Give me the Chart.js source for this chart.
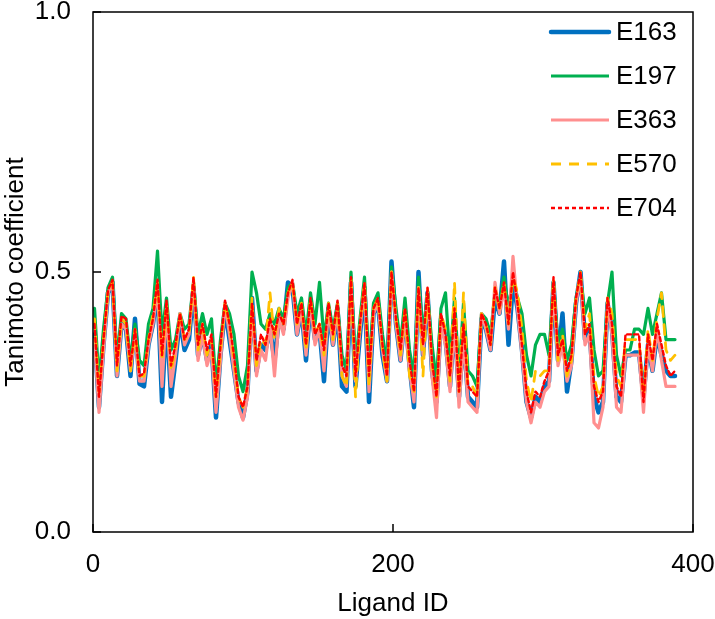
<!DOCTYPE html>
<html>
<head>
<meta charset="utf-8">
<script src="https://cdn.jsdelivr.net/npm/chart.js@4"></script>
<style>
  html, body { margin: 0; padding: 0; background: #ffffff; }
  #wrap { width: 715px; height: 619px; }
</style>
</head>
<body>
<div id="wrap"><canvas id="c" width="715" height="619"></canvas></div>
<script>
// Ligand IDs (sampled every 3rd ligand)
const ligandIds = Array.from({length: 130}, (_, i) => 1 + 3 * i);

const seriesNames = ["E163", "E197", "E363", "E570", "E704"];

const e163 = [
  0.38,0.24,0.36,0.46,0.48,0.30,0.40,0.39,0.30,0.41,0.285,0.28,0.36,0.40,0.47,0.25,0.42,
  0.26,0.33,0.41,0.35,0.37,0.47,0.34,0.38,0.33,0.36,0.22,0.34,0.43,0.37,0.31,0.25,
  0.22,0.27,0.45,0.31,0.36,0.35,0.39,0.33,0.41,0.39,0.48,0.47,0.38,0.43,0.33,0.44,0.37,
  0.39,0.29,0.43,0.36,0.43,0.28,0.27,0.48,0.28,0.38,0.47,0.25,0.42,0.44,0.34,0.29,0.52,
  0.40,0.33,0.42,0.32,0.24,0.50,0.34,0.46,0.31,0.25,0.41,0.37,0.28,0.41,0.26,0.38,0.26,
  0.25,0.24,0.41,0.39,0.35,0.45,0.42,0.52,0.36,0.48,0.43,0.35,0.25,0.22,0.26,0.25,0.28,
  0.29,0.48,0.33,0.42,0.27,0.33,0.44,0.50,0.37,0.39,0.26,0.23,0.25,0.44,0.39,0.26,0.25,
  0.34,0.34,0.345,0.345,0.26,0.36,0.31,0.38,0.34,0.31,0.30,0.30
];
const e197 = [
  0.43,0.29,0.39,0.47,0.49,0.33,0.42,0.41,0.33,0.40,0.33,0.32,0.40,0.43,0.54,0.38,0.45,
  0.35,0.37,0.42,0.39,0.40,0.48,0.38,0.42,0.38,0.41,0.28,0.37,0.44,0.42,0.38,0.30,
  0.27,0.32,0.50,0.46,0.40,0.39,0.42,0.40,0.43,0.41,0.47,0.48,0.42,0.45,0.38,0.46,0.40,
  0.48,0.37,0.44,0.39,0.44,0.34,0.31,0.50,0.32,0.41,0.49,0.32,0.44,0.46,0.38,0.32,0.51,
  0.43,0.36,0.45,0.35,0.30,0.49,0.38,0.46,0.36,0.29,0.43,0.46,0.33,0.45,0.30,0.44,0.31,
  0.30,0.28,0.42,0.41,0.38,0.46,0.44,0.49,0.43,0.49,0.45,0.42,0.34,0.30,0.36,0.38,0.38,
  0.34,0.48,0.36,0.39,0.33,0.36,0.45,0.49,0.42,0.45,0.35,0.30,0.31,0.44,0.50,0.34,0.30,
  0.35,0.35,0.39,0.39,0.38,0.43,0.38,0.42,0.46,0.37,0.37,0.37
];
const e363 = [
  0.37,0.23,0.35,0.46,0.48,0.30,0.40,0.39,0.31,0.38,0.29,0.29,0.36,0.40,0.47,0.28,0.43,
  0.28,0.34,0.42,0.36,0.38,0.48,0.33,0.38,0.32,0.35,0.23,0.33,0.44,0.38,0.31,0.24,
  0.215,0.26,0.43,0.30,0.35,0.33,0.40,0.30,0.41,0.38,0.45,0.48,0.38,0.43,0.34,0.44,0.36,
  0.39,0.31,0.43,0.36,0.43,0.30,0.28,0.48,0.29,0.39,0.47,0.27,0.42,0.44,0.35,0.29,0.50,
  0.40,0.33,0.41,0.31,0.25,0.47,0.34,0.46,0.30,0.22,0.40,0.36,0.27,0.40,0.24,0.37,0.25,
  0.24,0.23,0.42,0.39,0.35,0.48,0.42,0.47,0.39,0.53,0.43,0.34,0.25,0.21,0.25,0.24,0.27,
  0.28,0.48,0.32,0.36,0.29,0.32,0.44,0.49,0.36,0.38,0.21,0.20,0.24,0.44,0.38,0.24,0.23,
  0.34,0.34,0.34,0.34,0.23,0.36,0.31,0.39,0.33,0.28,0.28,0.28
];
const e570 = [
  0.41,0.27,0.37,0.46,0.48,0.31,0.41,0.40,0.31,0.39,0.30,0.30,0.37,0.42,0.48,0.33,0.44,
  0.31,0.35,0.42,0.37,0.38,0.49,0.35,0.40,0.34,0.37,0.26,0.35,0.44,0.40,0.33,0.26,
  0.24,0.28,0.45,0.32,0.37,0.36,0.46,0.37,0.43,0.40,0.46,0.48,0.40,0.44,0.35,0.45,0.38,
  0.40,0.34,0.44,0.37,0.44,0.30,0.28,0.49,0.26,0.40,0.48,0.28,0.43,0.45,0.35,0.29,0.50,
  0.41,0.34,0.43,0.30,0.27,0.47,0.30,0.47,0.32,0.26,0.42,0.39,0.29,0.48,0.27,0.46,0.28,
  0.28,0.26,0.42,0.40,0.36,0.47,0.43,0.48,0.40,0.49,0.46,0.39,0.29,0.25,0.31,0.30,0.31,
  0.31,0.49,0.33,0.38,0.30,0.33,0.45,0.50,0.39,0.42,0.30,0.26,0.28,0.45,0.42,0.30,0.28,
  0.37,0.37,0.37,0.37,0.26,0.39,0.33,0.41,0.46,0.35,0.33,0.34
];
const e704 = [
  0.40,0.26,0.37,0.465,0.485,0.32,0.415,0.41,0.32,0.39,0.30,0.305,0.37,0.41,0.485,0.34,0.445,
  0.32,0.36,0.42,0.37,0.39,0.49,0.36,0.40,0.35,0.38,0.26,0.36,0.445,0.40,0.34,0.26,
  0.24,0.28,0.44,0.33,0.38,0.36,0.41,0.38,0.42,0.40,0.46,0.485,0.40,0.44,0.36,0.45,0.38,
  0.40,0.35,0.44,0.38,0.445,0.32,0.30,0.49,0.30,0.40,0.48,0.30,0.43,0.45,0.36,0.30,0.50,
  0.41,0.35,0.43,0.33,0.27,0.47,0.36,0.47,0.33,0.26,0.42,0.38,0.30,0.43,0.27,0.40,0.28,
  0.27,0.26,0.42,0.40,0.36,0.47,0.43,0.48,0.40,0.50,0.44,0.36,0.27,0.23,0.27,0.26,0.29,
  0.31,0.49,0.34,0.37,0.31,0.34,0.45,0.50,0.38,0.40,0.28,0.25,0.27,0.45,0.40,0.28,0.26,
  0.38,0.38,0.38,0.38,0.25,0.38,0.33,0.40,0.36,0.32,0.30,0.31
];

const xTicks = [0, 200, 400];
const yTicks = [0.0, 0.5, 1.0];

const FONT = "'Liberation Sans', Arial, sans-serif";

function pts(arr) { return arr.map((v, i) => ({x: ligandIds[i], y: v})); }

const styles = [
  {color: '#0070C0', width: 4.5, dash: [], order: 5},
  {color: '#00B050', width: 3.2, dash: [], order: 4},
  {color: '#FF8F8F', width: 3.2, dash: [], order: 3},
  {color: '#FFC000', width: 2.8, dash: [10, 8], order: 2},
  {color: '#FF0000', width: 2.4, dash: [4, 3], order: 1}
];
const allSeries = [e163, e197, e363, e570, e704];

const datasets = allSeries.map((arr, k) => ({
  label: seriesNames[k],
  data: pts(arr),
  borderColor: styles[k].color,
  backgroundColor: styles[k].color,
  borderWidth: styles[k].width,
  borderDash: styles[k].dash,
  borderJoinStyle: 'round',
  borderCapStyle: 'round',
  pointRadius: 0,
  tension: 0,
  fill: false,
  order: styles[k].order
}));

const framePlugin = {
  id: 'frame',
  afterDraw(chart) {
    const ctx = chart.ctx, a = chart.chartArea;
    const xs = chart.scales.x, ys = chart.scales.y;
    ctx.save();
    ctx.strokeStyle = '#000';
    ctx.lineWidth = 1.5;
    ctx.setLineDash([]);
    ctx.strokeRect(a.left, a.top, a.right - a.left, a.bottom - a.top);
    // inward tick marks
    ctx.beginPath();
    xTicks.forEach(t => { const px = xs.getPixelForValue(t); ctx.moveTo(px, a.bottom); ctx.lineTo(px, a.bottom - 8); });
    yTicks.forEach(t => { const py = ys.getPixelForValue(t); ctx.moveTo(a.left, py); ctx.lineTo(a.left + 8, py); });
    ctx.stroke();
    // legend
    const lx0 = 551, lx1 = 609, tx = 616;
    ctx.font = '26px ' + FONT;
    ctx.textBaseline = 'middle';
    ctx.textAlign = 'left';
    seriesNames.forEach((name, k) => {
      const y = 32 + k * 44;
      ctx.beginPath();
      ctx.strokeStyle = styles[k].color;
      ctx.lineWidth = styles[k].width;
      ctx.lineCap = k === 0 ? 'round' : 'butt';
      ctx.setLineDash(styles[k].dash);
      ctx.moveTo(lx0, y); ctx.lineTo(lx1, y);
      ctx.stroke();
      ctx.setLineDash([]);
      ctx.fillStyle = '#000';
      ctx.fillText(name, tx, y + 1);
    });
    ctx.restore();
  }
};

new Chart(document.getElementById('c'), {
  type: 'line',
  data: { datasets },
  options: {
    responsive: false,
    animation: false,
    devicePixelRatio: 1,
    layout: { padding: { left: 0, right: 22, top: 12, bottom: 0 } },
    plugins: { legend: { display: false }, tooltip: { enabled: false } },
    scales: {
      x: {
        type: 'linear', min: 0, max: 400,
        afterBuildTicks: s => { s.ticks = xTicks.map(v => ({value: v})); },
        afterFit: s => { s.height = 87; s.paddingLeft = 0; s.paddingRight = 0; },
        grid: { display: false, drawTicks: false },
        border: { display: false },
        ticks: { color: '#000', font: { size: 26, family: FONT }, padding: 17, maxRotation: 0 },
        title: { display: true, text: 'Ligand ID', color: '#000', font: { size: 26, family: FONT }, padding: { top: 4, bottom: 0 } }
      },
      y: {
        type: 'linear', min: 0, max: 1,
        afterBuildTicks: s => { s.ticks = yTicks.map(v => ({value: v})); },
        afterFit: s => { s.width = 93; s.paddingTop = 0; s.paddingBottom = 0; },
        grid: { display: false, drawTicks: false },
        border: { display: false },
        ticks: { color: '#000', font: { size: 26, family: FONT }, padding: 22, callback: v => Number(v).toFixed(1) },
        title: { display: true, text: 'Tanimoto coefficient', color: '#000', font: { size: 26, family: FONT }, padding: { top: 0, bottom: 0 } }
      }
    }
  },
  plugins: [framePlugin]
});
</script>
</body>
</html>
